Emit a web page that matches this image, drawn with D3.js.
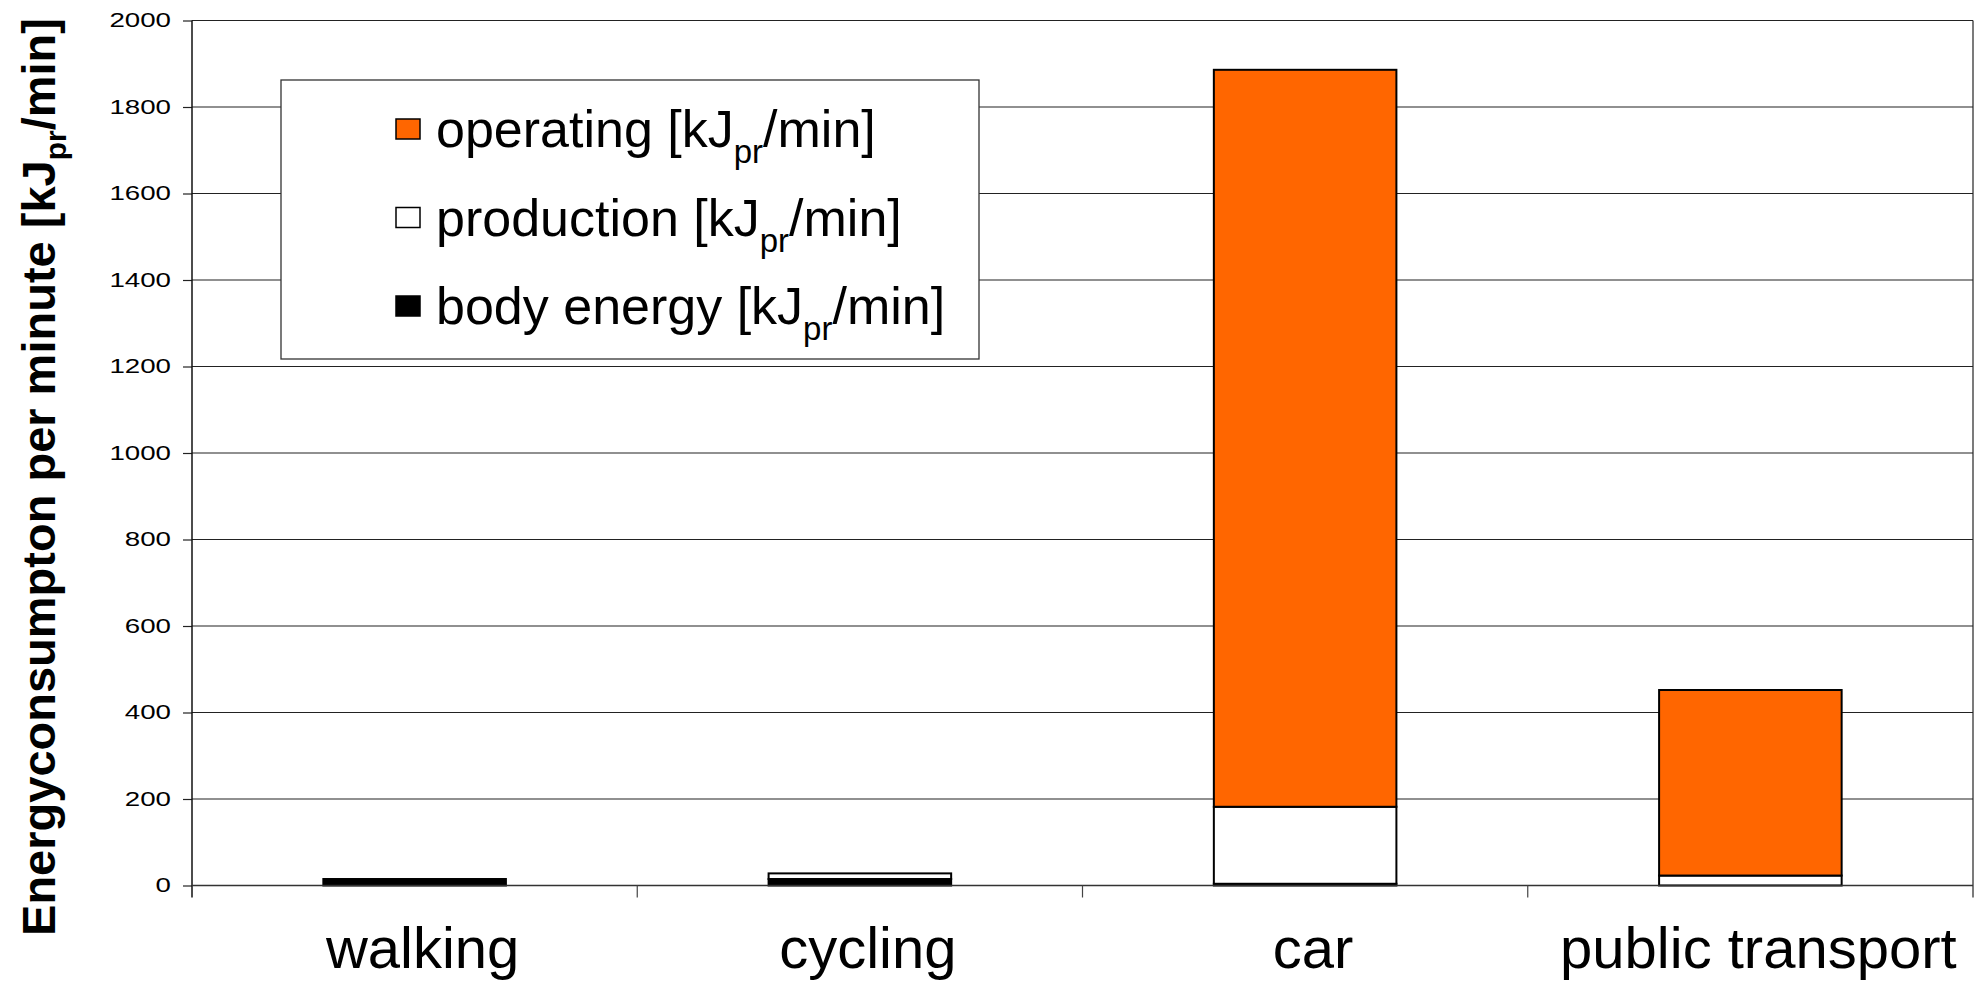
<!DOCTYPE html>
<html>
<head>
<meta charset="utf-8">
<script src="https://cdn.jsdelivr.net/npm/d3@7"></script>
<style>
  html, body { margin: 0; padding: 0; background: #fff; }
  svg { display: block; }
</style>
</head>
<body>
<svg id="chart" width="1984" height="986"></svg>
<script>
// Transport modes and their energy use per minute, stacked bottom to top
const categories = ["walking", "cycling", "car", "public transport"];
const bodyEnergy = [15, 15, 4, 0];
const production = [0, 13, 178, 23];
const operating  = [0, 0, 1704, 429];

const seriesNames = ["operating", "production", "body energy"];
const seriesColors = ["#FF6600", "#FFFFFF", "#000000"];
const yTicks = [0, 200, 400, 600, 800, 1000, 1200, 1400, 1600, 1800, 2000];

const W = 1984, H = 986;
const plot = { left: 192, right: 1973, top: 20.5, bottom: 885.5 };
const FONT = "'Liberation Sans', Arial, Helvetica, sans-serif";

const svg = d3.select("#chart");

const y = d3.scaleLinear().domain([0, 2000]).range([plot.bottom, plot.top]);
const xCat = d3.scaleBand().domain(categories).range([plot.left, plot.right]).padding(0);
const xBar = d3.scaleBand().domain(categories).range([plot.left, plot.right])
  .paddingInner(0.59).paddingOuter(0.295);

// Horizontal gridlines
svg.append("g")
  .selectAll("line")
  .data(yTicks.filter(d => d > 0))
  .join("line")
  .attr("x1", plot.left).attr("x2", plot.right)
  .attr("y1", d => y(d)).attr("y2", d => y(d))
  .attr("stroke", "#222").attr("stroke-width", 1.2);

// Right border of the plot area
svg.append("line")
  .attr("x1", plot.right).attr("x2", plot.right)
  .attr("y1", plot.top).attr("y2", plot.bottom + 12)
  .attr("stroke", "#222").attr("stroke-width", 1.2);

// Stacked bars
const rows = categories.map((c, i) => ({
  cat: c, body: bodyEnergy[i], production: production[i], operating: operating[i]
}));
const stack = d3.stack().keys(["body", "production", "operating"]);
const layers = stack(rows);
const layerColors = { body: "#000000", production: "#FFFFFF", operating: "#FF6600" };

svg.append("g")
  .selectAll("g")
  .data(layers)
  .join("g")
  .attr("fill", d => layerColors[d.key])
  .selectAll("rect")
  .data(d => d.filter(s => s[1] - s[0] > 0))
  .join("rect")
  .attr("x", d => xBar(d.data.cat))
  .attr("width", xBar.bandwidth())
  .attr("y", d => y(d[1]))
  .attr("height", d => y(d[0]) - y(d[1]))
  .attr("stroke", "#000")
  .attr("stroke-width", 2);

// Value axis
const yAxis = svg.append("g")
  .attr("transform", `translate(${plot.left},0)`)
  .call(d3.axisLeft(y).tickValues(yTicks).tickSize(9).tickPadding(12).tickFormat(d3.format("d")));
yAxis.select(".domain").remove();
yAxis.selectAll(".tick line").attr("stroke", "#222").attr("stroke-width", 1.2);
yAxis.selectAll(".tick text")
  .attr("font-family", FONT)
  .attr("font-size", 19.5)
  .attr("fill", "#000")
  .attr("textLength", d => String(d).length * 15.4)
  .attr("lengthAdjust", "spacingAndGlyphs");
svg.append("line")
  .attr("x1", plot.left).attr("x2", plot.left)
  .attr("y1", plot.top).attr("y2", plot.bottom + 12)
  .attr("stroke", "#111").attr("stroke-width", 1.5);

// Category axis: baseline plus tick marks between categories
svg.append("line")
  .attr("x1", plot.left).attr("x2", plot.right)
  .attr("y1", plot.bottom).attr("y2", plot.bottom)
  .attr("stroke", "#333").attr("stroke-width", 1.5);
const boundaries = categories.map(c => xCat(c)).concat([xCat(categories[categories.length - 1]) + xCat.bandwidth()]);
svg.append("g")
  .selectAll("line")
  .data(boundaries.slice(1, -1))
  .join("line")
  .attr("x1", d => d).attr("x2", d => d)
  .attr("y1", plot.bottom).attr("y2", plot.bottom + 12)
  .attr("stroke", "#444").attr("stroke-width", 1.2);

svg.append("g")
  .selectAll("text")
  .data(categories)
  .join("text")
  .attr("x", d => xCat(d) + xCat.bandwidth() / 2 + 8)
  .attr("y", 968)
  .attr("text-anchor", "middle")
  .attr("font-family", FONT)
  .attr("font-size", 58)
  .attr("fill", "#000")
  .text(d => d);

// Value axis title with subscript unit
const title = svg.append("text")
  .attr("transform", `translate(55,477) rotate(-90)`)
  .attr("text-anchor", "middle")
  .attr("font-family", FONT)
  .attr("font-weight", "bold")
  .attr("font-size", 47)
  .attr("fill", "#000");
title.append("tspan").text("Energyconsumpton per minute [kJ");
title.append("tspan").attr("font-size", 30).attr("dy", 11).text("pr");
title.append("tspan").attr("dy", -11).text("/min]");

// Legend
const legend = svg.append("g");
legend.append("rect")
  .attr("x", 281).attr("y", 80).attr("width", 698).attr("height", 279)
  .attr("fill", "#fff").attr("stroke", "#333").attr("stroke-width", 1.3);

const legendRows = legend.selectAll("g.item")
  .data(seriesNames)
  .join("g")
  .attr("class", "item")
  .attr("transform", (d, i) => `translate(0,${147 + i * 88.5})`);

legendRows.append("rect")
  .attr("x", 396).attr("y", -28).attr("width", 24).attr("height", 20)
  .attr("fill", (d, i) => seriesColors[i])
  .attr("stroke", "#000").attr("stroke-width", 1.5);

const legendText = legendRows.append("text")
  .attr("x", 436)
  .attr("y", 0)
  .attr("font-family", FONT)
  .attr("font-size", 52)
  .attr("fill", "#000");
legendText.append("tspan").text(d => d + " [kJ");
legendText.append("tspan").attr("font-size", 33).attr("dy", 16).text("pr");
legendText.append("tspan").attr("dy", -16).text("/min]");
</script>
</body>
</html>
